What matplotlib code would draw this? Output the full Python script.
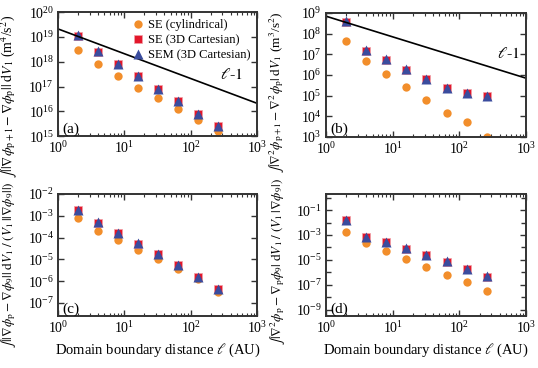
import numpy as np
import matplotlib
matplotlib.use('Agg')
import matplotlib.pyplot as plt
import matplotlib.ticker as mticker

plt.rc('font', family='Liberation Serif', size=10)
plt.rc('mathtext', fontset='stix')

# domain boundary distance (AU)
dist = [2, 4, 8, 16, 32, 64, 128, 256]

# (a) gradient difference between successive domains
a_cyl = [3.0e18, 8.3e17, 2.6e17, 9.0e16, 3.5e16, 1.25e16, 4.5e15, 1.6e15]
a_cart = [1.1e19, 2.5e18, 8.3e17, 2.6e17, 7.8e16, 2.5e16, 7.5e15, 2.5e15]
a_sem = [1.15e19, 2.6e18, 8.5e17, 2.7e17, 8.2e16, 2.6e16, 8.0e15, 2.6e15]
a_ref = 2.1e19

# (b) laplacian difference between successive domains
b_cyl = [4.4e7, 4.8e6, 1.1e6, 2.6e5, 6.3e4, 1.5e4, 5.0e3, 1.0e3]
b_cart = [3.8e8, 1.5e7, 5.5e6, 1.8e6, 6.0e5, 2.3e5, 1.35e5, 1.0e5]
b_sem = [4.0e8, 1.6e7, 5.8e6, 1.9e6, 6.2e5, 2.4e5, 1.4e5, 1.0e5]
b_ref = 6.9e8

# (c) relative gradient error vs finest domain
c_cyl = [7.6e-4, 2.0e-4, 7.6e-5, 2.7e-5, 1.0e-5, 3.7e-6, 1.2e-6, 3.2e-7]
c_cart = [1.8e-3, 4.9e-4, 1.6e-4, 5.2e-5, 1.7e-5, 5.3e-6, 1.5e-6, 4.2e-7]
c_sem = [1.9e-3, 5.1e-4, 1.65e-4, 5.5e-5, 1.75e-5, 5.5e-6, 1.6e-6, 4.5e-7]

# (d) relative laplacian error vs finest domain
d_cyl = [1.9e-3, 2.2e-4, 5.2e-5, 1.2e-5, 2.9e-6, 6.3e-7, 1.7e-7, 3.3e-8]
d_cart = [1.5e-2, 7.0e-4, 2.5e-4, 8.0e-5, 2.4e-5, 7.0e-6, 1.7e-6, 4.4e-7]
d_sem = [1.6e-2, 7.4e-4, 2.6e-4, 8.5e-5, 2.5e-5, 7.4e-6, 1.8e-6, 4.6e-7]

labels = ['SE (cylindrical)', 'SE (3D Cartesian)', 'SEM (3D Cartesian)']

c_or = '#f28e2b'
c_rd = '#e3172b'
c_bl = '#3a4c9e'
spine_col = '#333333'

fig = plt.figure(figsize=(5.38, 3.68), dpi=100)
ax1 = fig.add_axes([0.108, 0.630, 0.370, 0.337])
ax2 = fig.add_axes([0.606, 0.628, 0.372, 0.337])
ax3 = fig.add_axes([0.108, 0.141, 0.370, 0.332])
ax4 = fig.add_axes([0.606, 0.141, 0.372, 0.332])

def draw(ax, cyl, cart, sem):
    ax.plot(dist, cyl, 'o', color=c_or, ms=6, mec='none', label=labels[0])
    ax.plot(dist, cart, 's', color=c_rd, ms=6, mec='#f0a0a8', mew=0.5, label=labels[1])
    ax.plot(dist, sem, '^', color=c_bl, ms=6.5, mec='none', label=labels[2])
    ax.set_xscale('log')
    ax.set_yscale('log')
    ax.set_xlim(1, 1e3)
    ax.xaxis.set_major_locator(mticker.LogLocator(base=10, numticks=10))
    ax.tick_params(which='both', direction='in', top=True, right=True,
                   color=spine_col, labelsize=10, pad=3)
    ax.tick_params(which='major', length=4, width=1)
    ax.tick_params(which='minor', length=2, width=0.8)
    for s in ax.spines.values():
        s.set_color(spine_col)
        s.set_linewidth(1.4)

draw(ax1, a_cyl, a_cart, a_sem)
draw(ax2, b_cyl, b_cart, b_sem)
draw(ax3, c_cyl, c_cart, c_sem)
draw(ax4, d_cyl, d_cart, d_sem)

xx = np.array([1.0, 1e3])
ax1.plot(xx, a_ref / xx, 'k-', lw=1.2)
ax2.plot(xx, b_ref / xx, 'k-', lw=1.2)
ax1.text(280, 2.1e17, r'$\ell$-$\mathit{1}$', fontsize=11.5)
ax2.text(370, 6.5e6, r'$\ell$-$\mathit{1}$', fontsize=11.5)

ax1.set_ylim(1e15, 1e20)
ax2.set_ylim(1e3, 1e9)

ax1.yaxis.set_major_locator(mticker.LogLocator(base=10, numticks=10))
ax2.yaxis.set_major_locator(mticker.LogLocator(base=10, numticks=10))
ax3.set_yticks([1e-2, 1e-3, 1e-4, 1e-5, 1e-6, 1e-7])
ax4.set_yticks([1e-1, 1e-3, 1e-5, 1e-7, 1e-9])
ax4.yaxis.set_minor_locator(mticker.FixedLocator([1.0, 1e-2, 1e-4, 1e-6, 1e-8]))
ax4.yaxis.set_minor_formatter(mticker.NullFormatter())
ax4.tick_params(axis='y', which='minor', length=3.5, width=1)
ax3.set_ylim(2.5e-8, 1e-2)
ax4.set_ylim(3e-10, 2.0)

ax1.legend(loc='upper right', frameon=False, fontsize=9, handletextpad=0.3,
           borderaxespad=0.15, labelspacing=0.25, handlelength=1.0)

for ax, t in zip([ax1, ax2, ax3, ax4], ['(a)', '(b)', '(c)', '(d)']):
    ax.text(0.02, 0.03, t, transform=ax.transAxes, fontsize=11)

ax1.set_ylabel(r'$\int||\nabla\phi_{\rm p+1}-\nabla\phi_{\rm p}||\;{\rm d}V_1$ (m$^4$/s$^2$)', fontsize=10)
ax2.set_ylabel(r'$\int|\nabla^2\phi_{\rm p+1}-\nabla^2\phi_{\rm p}|\;{\rm d}V_1$ (m$^3$/s$^2$)', fontsize=9.5)
ax3.set_ylabel(r'$\int||\nabla\phi_{\rm p}-\nabla\phi_9||\;{\rm d}V_1\;/\;(V_1\,||\nabla\phi_9||)$', fontsize=9.5)
ax4.set_ylabel(r'$\int|\nabla^2\phi_{\rm p}-\nabla_{\rm p}\phi_9|\;{\rm d}V_1\;/\;(V_1\,|\nabla\phi_9|)$', fontsize=9.5)
ax1.yaxis.set_label_coords(-0.195, 0.32)
ax2.yaxis.set_label_coords(-0.195, 0.36)
ax3.yaxis.set_label_coords(-0.2, 0.42)
ax4.yaxis.set_label_coords(-0.19, 0.45)

ax3.set_xlabel(r'Domain boundary distance $\ell$ (AU)', fontsize=10.5)
ax4.set_xlabel(r'Domain boundary distance $\ell$ (AU)', fontsize=10.5)

plt.savefig('out.png', dpi=100)
